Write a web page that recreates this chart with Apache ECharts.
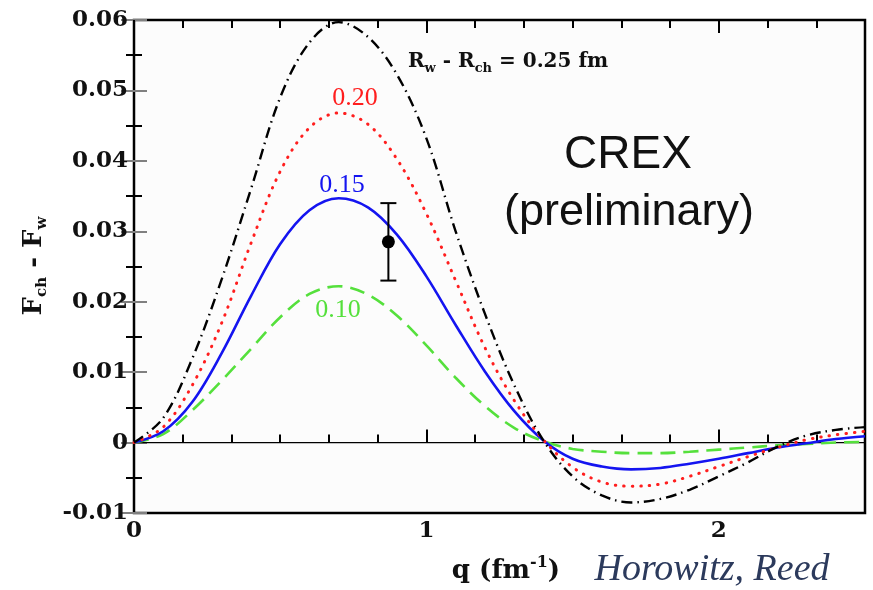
<!DOCTYPE html>
<html>
<head>
<meta charset="utf-8">
<script src="https://cdn.jsdelivr.net/npm/echarts@6/dist/echarts.min.js"></script>
<style>
  html, body { margin: 0; padding: 0; background: #ffffff; }
  #chart { width: 873px; height: 590px; }
</style>
</head>
<body>
<div id="chart"></div>
<script>
// Momentum transfer grid (fm^-1)
const qValues = [0, 0.1, 0.2, 0.3, 0.4, 0.5, 0.6, 0.7, 0.8, 0.9, 1.0, 1.1, 1.2,
                 1.3, 1.4, 1.5, 1.6, 1.7, 1.8, 1.9, 2.0, 2.1, 2.2, 2.3, 2.4, 2.5];

// F_ch - F_w for several neutron skin thicknesses R_w - R_ch
const diffSkin025 = [0, 0.0035, 0.0120, 0.0232, 0.0360, 0.0490, 0.0568, 0.0597, 0.0576, 0.0522,
                     0.0432, 0.0300, 0.0183, 0.0082, 0.0003, -0.0048, -0.0075, -0.0085, -0.0080,
                     -0.0067, -0.0048, -0.0028, -0.0006, 0.0010, 0.0018, 0.0022];
const diffSkin020 = [0, 0.0022, 0.0082, 0.0170, 0.0283, 0.0385, 0.0447, 0.0468, 0.0452, 0.0402,
                     0.0325, 0.0230, 0.0135, 0.0060, 0.0004, -0.0035, -0.0056, -0.0062, -0.0059,
                     -0.0048, -0.0034, -0.0020, -0.0007, 0.0004, 0.0011, 0.0016];
const diffSkin015 = [0, 0.0016, 0.0058, 0.0127, 0.0208, 0.0282, 0.0330, 0.0347, 0.0334, 0.0295,
                     0.0236, 0.0167, 0.0101, 0.0045, 0.0003, -0.0023, -0.0034, -0.0038, -0.0036,
                     -0.0030, -0.0023, -0.0015, -0.0007, -0.0001, 0.0005, 0.0009];
const diffSkin010 = [0, 0.0012, 0.0046, 0.0088, 0.0133, 0.0178, 0.0211, 0.0222, 0.0210, 0.0180,
                     0.0138, 0.0092, 0.0052, 0.0021, 0.0002, -0.0009, -0.0013, -0.0015, -0.0015,
                     -0.0013, -0.0010, -0.0007, -0.0004, -0.0002, 0.0000, 0.0001];

// CREX measurement: q, central value, lower and upper error limits
const crexQ = [0.87];
const crexValue = [0.0285];
const crexLow = [0.023];
const crexHigh = [0.034];

// Axis ranges and ticks
const xRange = [0, 2.5];
const yRange = [-0.01, 0.06];
const xTickLabels = ['0', '1', '2'];
const yTickLabels = ['-0.01', '0', '0.01', '0.02', '0.03', '0.04', '0.05', '0.06'];

const pairs = (ys) => qValues.map((q, i) => [q, ys[i]]);

const tickFont = 'DejaVu Serif';
const curveLabelFont = 'Liberation Serif';

const chart = echarts.init(document.getElementById('chart'), null, { renderer: 'canvas' });

function xAxisDef(position, majorOnly, showLabels) {
  return {
    type: 'value', position: position, min: xRange[0], max: xRange[1],
    interval: majorOnly ? 1 : 1 / 6,
    axisLine: { show: false },
    splitLine: { show: false },
    axisTick: { show: true, inside: true, length: majorOnly ? 13 : 8,
                lineStyle: { color: '#000', width: 2 } },
    axisLabel: {
      show: showLabels, margin: 7, color: '#111',
      fontFamily: tickFont, fontSize: 23, fontWeight: 'bold',
      formatter: (v) => {
        const idx = Math.round(v);
        return Math.abs(v - idx) < 1e-6 && idx < xTickLabels.length ? xTickLabels[idx] : '';
      }
    }
  };
}

function yAxisDef(position, showLabels) {
  return {
    type: 'value', position: position, min: yRange[0], max: yRange[1], interval: 0.01,
    axisLine: { show: false },
    splitLine: { show: false },
    axisTick: { show: true, inside: true, length: 13, lineStyle: { color: '#808080', width: 2 } },
    minorTick: { show: true, splitNumber: 2, length: 8, lineStyle: { color: '#000', width: 2 } },
    minorSplitLine: { show: false },
    axisLabel: {
      show: showLabels, margin: 6, color: '#111',
      fontFamily: tickFont, fontSize: 23, fontWeight: 'bold',
      formatter: (v) => {
        const idx = Math.round((v - yRange[0]) / 0.01);
        return yTickLabels[idx] !== undefined ? yTickLabels[idx] : '';
      }
    }
  };
}

const option = {
  backgroundColor: '#ffffff',
  animation: false,
  grid: {
    left: 134, top: 20, width: 731, height: 493,
    show: true, backgroundColor: '#fcfcfc', borderColor: '#000', borderWidth: 2.5
  },
  xAxis: [
    xAxisDef('bottom', true, true),
    xAxisDef('bottom', false, false),
    xAxisDef('top', true, false),
    xAxisDef('top', false, false)
  ],
  yAxis: [
    yAxisDef('left', true),
    yAxisDef('right', false)
  ],
  series: [
    {
      name: 'zero', type: 'line', xAxisIndex: 0, yAxisIndex: 0, z: 1,
      data: [[xRange[0], 0], [xRange[1], 0]],
      symbol: 'none', lineStyle: { color: '#000', width: 1.2 }, silent: true
    },
    {
      name: '0.10', type: 'line', xAxisIndex: 0, yAxisIndex: 0, z: 2,
      data: pairs(diffSkin010), smooth: 0.35, symbol: 'none',
      lineStyle: { color: '#55e03c', width: 2.6, type: [15, 8] }
    },
    {
      name: '0.15', type: 'line', xAxisIndex: 0, yAxisIndex: 0, z: 3,
      data: pairs(diffSkin015), smooth: 0.35, symbol: 'none',
      lineStyle: { color: '#1414f0', width: 2.6 }
    },
    {
      name: '0.20', type: 'line', xAxisIndex: 0, yAxisIndex: 0, z: 4,
      data: pairs(diffSkin020), smooth: 0.35, symbol: 'none',
      lineStyle: { color: '#ff1e1e', width: 3, type: [0.5, 8], cap: 'round' }
    },
    {
      name: '0.25', type: 'line', xAxisIndex: 0, yAxisIndex: 0, z: 5,
      data: pairs(diffSkin025), smooth: 0.35, symbol: 'none',
      lineStyle: { color: '#000', width: 2.4, type: [11, 5, 1.5, 5] }
    },
    {
      name: 'CREX error', type: 'custom', xAxisIndex: 0, yAxisIndex: 0, z: 6,
      data: crexQ.map((q, i) => [q, crexLow[i], crexHigh[i]]),
      renderItem: (params, api) => {
        const lo = api.coord([api.value(0), api.value(1)]);
        const hi = api.coord([api.value(0), api.value(2)]);
        const half = 8;
        const st = { stroke: '#000', lineWidth: 2 };
        return {
          type: 'group',
          children: [
            { type: 'line', shape: { x1: lo[0], y1: lo[1], x2: hi[0], y2: hi[1] }, style: st },
            { type: 'line', shape: { x1: lo[0] - half, y1: lo[1], x2: lo[0] + half, y2: lo[1] }, style: st },
            { type: 'line', shape: { x1: hi[0] - half, y1: hi[1], x2: hi[0] + half, y2: hi[1] }, style: st }
          ]
        };
      }
    },
    {
      name: 'CREX', type: 'scatter', xAxisIndex: 0, yAxisIndex: 0, z: 7,
      data: crexQ.map((q, i) => [q, crexValue[i]]),
      symbol: 'circle', symbolSize: 13, itemStyle: { color: '#000', opacity: 1 }
    }
  ],
  graphic: [
    {
      type: 'text', x: 34, y: 266, rotation: Math.PI / 2,
      style: {
        text: '{m|F}{s|ch}{m| - F}{s|w}',
        align: 'center', verticalAlign: 'middle',
        rich: {
          m: { fontFamily: tickFont, fontWeight: 'bold', fontSize: 26, lineHeight: 31, verticalAlign: 'middle', fill: '#111' },
          s: { fontFamily: tickFont, fontWeight: 'bold', fontSize: 15, lineHeight: 15, verticalAlign: 'bottom', fill: '#111' }
        }
      }
    },
    {
      type: 'text', x: 506, y: 571,
      style: {
        text: '{m|q (fm}{p|-1}{m|)}',
        align: 'center', verticalAlign: 'middle',
        rich: {
          m: { fontFamily: tickFont, fontWeight: 'bold', fontSize: 26, lineHeight: 32, verticalAlign: 'middle', fill: '#111' },
          p: { fontFamily: tickFont, fontWeight: 'bold', fontSize: 16, lineHeight: 16, verticalAlign: 'top', fill: '#111' }
        }
      }
    },
    {
      type: 'text', x: 712, y: 570,
      style: {
        text: 'Horowitz, Reed', align: 'center', verticalAlign: 'middle',
        fontFamily: curveLabelFont, fontStyle: 'italic', fontSize: 38, fill: '#2c3a5c'
      }
    },
    {
      type: 'text', x: 408, y: 62,
      style: {
        text: '{m|R}{s|w}{m| - R}{s|ch}{m| = 0.25 fm}',
        align: 'left', verticalAlign: 'middle',
        rich: {
          m: { fontFamily: tickFont, fontWeight: 'bold', fontSize: 20, lineHeight: 26, verticalAlign: 'middle', fill: '#111' },
          s: { fontFamily: tickFont, fontWeight: 'bold', fontSize: 13, lineHeight: 13, verticalAlign: 'bottom', fill: '#111' }
        }
      }
    },
    {
      type: 'text', x: 355, y: 98,
      style: { text: '0.20', align: 'center', verticalAlign: 'middle',
               fontFamily: curveLabelFont, fontSize: 26, fill: '#ff1e1e' }
    },
    {
      type: 'text', x: 342, y: 185,
      style: { text: '0.15', align: 'center', verticalAlign: 'middle',
               fontFamily: curveLabelFont, fontSize: 26, fill: '#1414f0' }
    },
    {
      type: 'text', x: 338, y: 310,
      style: { text: '0.10', align: 'center', verticalAlign: 'middle',
               fontFamily: curveLabelFont, fontSize: 26, fill: '#55e03c' }
    },
    {
      type: 'text', x: 628, y: 155,
      style: { text: 'CREX', align: 'center', verticalAlign: 'middle',
               fontFamily: 'Liberation Sans', fontSize: 46, fill: '#111' }
    },
    {
      type: 'text', x: 629, y: 213,
      style: { text: '(preliminary)', align: 'center', verticalAlign: 'middle',
               fontFamily: 'Liberation Sans', fontSize: 45, fill: '#111' }
    }
  ]
};

chart.setOption(option);
</script>
</body>
</html>
